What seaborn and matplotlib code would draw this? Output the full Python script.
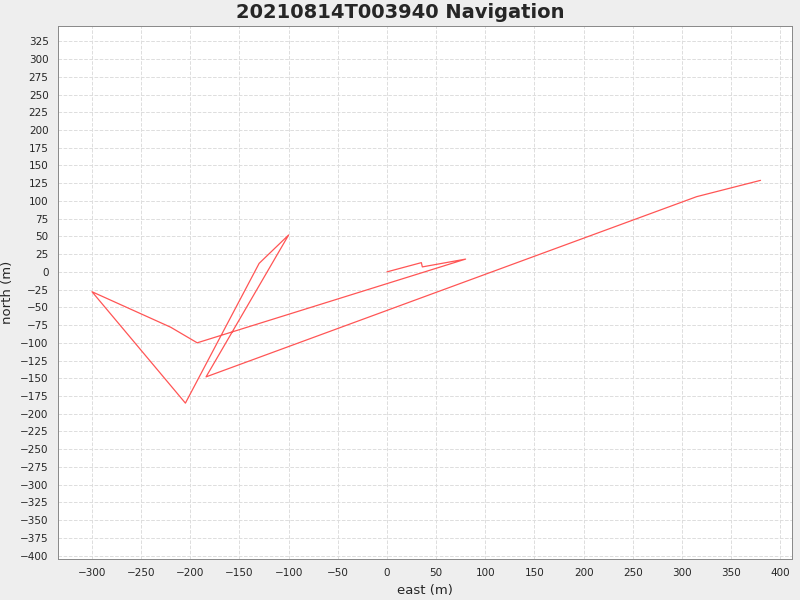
import numpy as np
import pandas as pd
import matplotlib
matplotlib.use("Agg")
import matplotlib.pyplot as plt
import seaborn as sns

# navigation track, in order
east = [0, 35, 36, 80, -193, -220, -300, -205, -130, -100, -184, 315, 380]
north = [0, 13, 7, 18, -100, -78, -28, -185, 12, 52, -148, 106, 129]

df = pd.DataFrame({"east": east, "north": north, "step": range(len(east))})

sns.set_style("white")
plt.rcParams['font.family'] = ['DejaVu Sans']

fig = plt.figure(figsize=(8, 6), dpi=100, facecolor='#eeeeee')
ax = fig.add_axes([0.072, 0.068, 0.918, 0.888])
ax.set_facecolor('white')

sns.lineplot(data=df, x="east", y="north", sort=False, estimator=None,
             color='#ff5555', linewidth=0.9, ax=ax)

ax.set_xlim(-335, 412)
ax.set_ylim(-405, 346)
ax.set_xticks(np.arange(-300, 401, 50))
ax.set_yticks(np.arange(-400, 326, 25))
ax.tick_params(labelsize=7.5, length=3, color='#888888')
ax.grid(True, linestyle='--', color='#dddddd', linewidth=0.7)
for s in ax.spines.values():
    s.set_color('#888888')
    s.set_linewidth(0.7)

ax.set_xlabel("east (m)", fontsize=9.5)
ax.set_ylabel("north (m)", fontsize=9.5)
fig.suptitle("20210814T003940 Navigation", fontsize=14, fontweight='bold', y=0.995)

fig.savefig("out.png", dpi=100, facecolor=fig.get_facecolor())
